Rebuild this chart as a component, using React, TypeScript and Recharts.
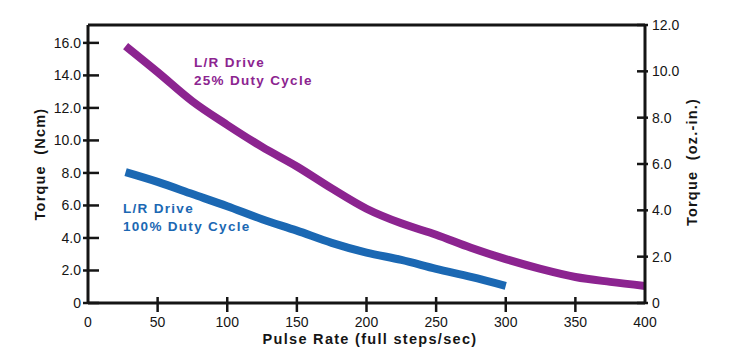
import { LineChart, Line, XAxis, YAxis, ReferenceLine } from 'recharts';

// pulse rate (full steps/sec)
const rate25 = [27, 50, 75, 100, 125, 150, 175, 200, 225, 250, 275, 300, 325, 350, 375, 400];
// torque (Ncm), 25% duty cycle
const torque25 = [15.8, 14.2, 12.4, 10.95, 9.6, 8.4, 7.05, 5.8, 4.9, 4.2, 3.4, 2.7, 2.1, 1.6, 1.3, 1.05];
const rate100 = [27, 50, 75, 100, 125, 150, 175, 200, 225, 250, 275, 300];
// torque (Ncm), 100% duty cycle
const torque100 = [8.05, 7.45, 6.7, 5.95, 5.15, 4.45, 3.7, 3.1, 2.65, 2.1, 1.6, 1.05];

const xTicks = [0, 50, 100, 150, 200, 250, 300, 350, 400];
const ncmTicks = [0, 2, 4, 6, 8, 10, 12, 14, 16];
const ozTicks = [0, 2, 4, 6, 8, 10, 12];

const PURPLE = '#8C2490';
const BLUE = '#1B68B3';
const INK = '#151515';
const FONT = '"Liberation Sans", Arial, Helvetica, sans-serif';

const data = rate25.map((r, i) => {
  const j = rate100.indexOf(r);
  return { rate: r, duty25: torque25[i], duty100: j >= 0 ? torque100[j] : undefined };
});

const fmt = (v: number) => (v === 0 ? '0' : v.toFixed(1));

// ticks cross the axis line, like the printed chart
// left: label x = axis - 7
const LeftTick = ({ x, y, payload }: any) => (
  <g>
    <line x1={x + 2} x2={x + 18} y1={y} y2={y} stroke={INK} strokeWidth={2.5} />
    <text x={x} y={y} dy={5} textAnchor="end" fill={INK} fontSize={14} fontFamily={FONT}>
      {fmt(payload.value)}
    </text>
  </g>
);

// right: label x = axis + 7
const RightTick = ({ x, y, payload }: any) => (
  <g>
    <line x1={x - 15} x2={x - 4} y1={y} y2={y} stroke={INK} strokeWidth={2.5} />
    <text x={x} y={y} dy={5} textAnchor="start" fill={INK} fontSize={14} fontFamily={FONT}>
      {fmt(payload.value)}
    </text>
  </g>
);

// bottom: label y = axis + 13
const BottomTick = ({ x, y, payload }: any) => (
  <g>
    {payload.value > 0 && payload.value < 400 && (
      <line x1={x} x2={x} y1={y - 19} y2={y - 4} stroke={INK} strokeWidth={2.5} />
    )}
    <text x={x} y={y} dy={11} textAnchor="middle" fill={INK} fontSize={14} fontFamily={FONT}>
      {payload.value}
    </text>
  </g>
);

const noteStyle = (color: string) => ({
  position: 'absolute' as const,
  color,
  fontFamily: FONT,
  fontWeight: 700,
  fontSize: 13.5,
  letterSpacing: 1.3,
  lineHeight: '18px',
  whiteSpace: 'nowrap' as const,
});

const hiddenTick = { stroke: 'transparent' };

export default function App() {
  return (
    <div style={{ position: 'relative', width: 729, height: 357, background: '#fff' }}>
      <style>{'body{margin:0}'}</style>
      <LineChart width={729} height={357} data={data} margin={{ top: 25, right: 0, bottom: 0, left: 0 }}>
        <XAxis
          dataKey="rate"
          type="number"
          domain={[0, 400]}
          ticks={xTicks}
          height={54}
          tickSize={7}
          tickMargin={6}
          tickLine={hiddenTick}
          tick={<BottomTick />}
          axisLine={{ stroke: INK, strokeWidth: 3 }}
        />
        <YAxis
          yAxisId="ncm"
          orientation="left"
          width={88}
          domain={[0, 17.1]}
          ticks={ncmTicks}
          tickSize={5}
          tickMargin={2}
          tickLine={hiddenTick}
          tick={<LeftTick />}
          axisLine={{ stroke: INK, strokeWidth: 3 }}
        />
        <YAxis
          yAxisId="oz"
          orientation="right"
          width={84}
          domain={[0, 12]}
          ticks={ozTicks}
          allowDataOverflow
          tickSize={3}
          tickMargin={4}
          tickLine={hiddenTick}
          tick={<RightTick />}
          axisLine={{ stroke: INK, strokeWidth: 3 }}
        />
        <ReferenceLine yAxisId="ncm" y={17.1} stroke={INK} strokeWidth={3} />
        {/* the oz.-in. scale carries no series of its own */}
        <Line
          yAxisId="oz"
          dataKey="ozScale"
          stroke="none"
          dot={false}
          activeDot={false}
          legendType="none"
          isAnimationActive={false}
        />
        <Line
          yAxisId="ncm"
          type="monotone"
          dataKey="duty25"
          stroke={PURPLE}
          strokeWidth={8}
          dot={false}
          isAnimationActive={false}
        />
        <Line
          yAxisId="ncm"
          type="monotone"
          dataKey="duty100"
          stroke={BLUE}
          strokeWidth={8}
          dot={false}
          isAnimationActive={false}
        />
      </LineChart>

      <div style={{ ...noteStyle(PURPLE), left: 194, top: 54 }}>
        L/R Drive
        <br />
        25% Duty Cycle
      </div>
      <div style={{ ...noteStyle(BLUE), left: 123, top: 200 }}>
        L/R Drive
        <br />
        100% Duty Cycle
      </div>

      <svg width={729} height={357} style={{ position: 'absolute', left: 0, top: 0, pointerEvents: 'none' }}>
        <text
          transform="translate(45,164) rotate(-90)"
          textAnchor="middle"
          fill={INK}
          fontFamily={FONT}
          fontWeight={700}
          fontSize={14.5}
          letterSpacing={1.2}
          xmlSpace="preserve"
        >
          {'Torque  (Ncm)'}
        </text>
        <text
          transform="translate(697,162) rotate(-90)"
          textAnchor="middle"
          fill={INK}
          fontFamily={FONT}
          fontWeight={700}
          fontSize={14.5}
          letterSpacing={1.2}
          xmlSpace="preserve"
        >
          {'Torque  (oz.-in.)'}
        </text>
        <text
          x={370}
          y={344}
          textAnchor="middle"
          fill={INK}
          fontFamily={FONT}
          fontWeight={700}
          fontSize={14.5}
          letterSpacing={1.3}
        >
          Pulse Rate (full steps/sec)
        </text>
      </svg>
    </div>
  );
}
